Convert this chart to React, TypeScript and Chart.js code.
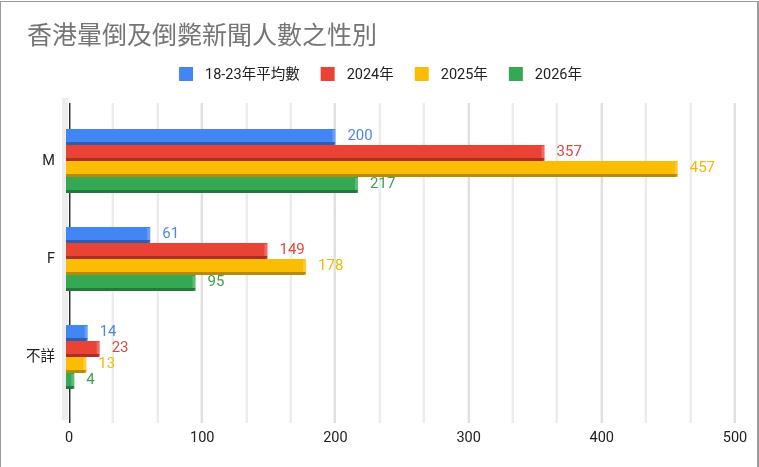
import React, { useEffect, useRef } from "react";
import { Chart, registerables } from "chart.js";

Chart.register(...registerables);

// Chart content
const chartTitle = "香港暈倒及倒斃新聞人數之性別";
const categories = ["M", "F", "不詳"];
const seriesNames = ["18-23年平均數", "2024年", "2025年", "2026年"];
const avg2018to2023 = [200, 61, 14];
const count2024 = [357, 149, 23];
const count2025 = [457, 178, 13];
const count2026 = [217, 95, 4];
const seriesValues = [avg2018to2023, count2024, count2025, count2026];

// Axis range: major ticks every 100, two minor gridlines between them
const xMin = 0;
const xMax = 500;
const xMajorStep = 100;
const xMinorDivisions = 3;

const seriesColors = ["#4285F4", "#EA4335", "#FBBC04", "#34A853"];
const seriesShades = ["#2c5fb3", "#a92f27", "#b98a06", "#22793a"];
const labelColors = ["#4f86e0", "#e0483d", "#f4b800", "#3d9f55"];

const FONT = "Roboto, 'Noto Sans CJK TC', 'Noto Sans', sans-serif";

const isMajor = (v: number) =>
  Math.abs(v / xMajorStep - Math.round(v / xMajorStep)) < 1e-6;

// Grid, back wall and zero axis behind the bars
const backdropPlugin = {
  id: "backdrop",
  beforeDatasetsDraw(chart: any) {
    const { ctx, chartArea } = chart;
    const xs = chart.scales.x;
    const top = chartArea.top - 9;
    const bottom = chartArea.bottom + 17;
    ctx.save();
    // side wall left of the zero axis
    ctx.fillStyle = "#ededed";
    ctx.fillRect(chartArea.left - 7, top - 5, 6, bottom - top + 2);
    xs.ticks.forEach((t: any) => {
      if (Math.abs(t.value) < 1e-9) return;
      const px = Math.round(xs.getPixelForValue(t.value));
      const major = isMajor(t.value);
      ctx.fillStyle = major ? "#f3f3f3" : "#f7f7f7";
      ctx.fillRect(px - 2, top, 1, bottom - top);
      ctx.fillStyle = major ? "#e0e0e0" : "#ececec";
      ctx.fillRect(px - 1, top, 2, bottom - top);
    });
    // zero axis
    const x0 = Math.round(xs.getPixelForValue(0));
    ctx.fillStyle = "#333333";
    ctx.fillRect(x0, top, 1.5, bottom - top);
    ctx.restore();
  },
};

// Depth shading on bars plus value labels
const barDepthPlugin = {
  id: "barDepth",
  afterDatasetsDraw(chart: any) {
    const { ctx } = chart;
    ctx.save();
    chart.data.datasets.forEach((ds: any, di: number) => {
      const meta = chart.getDatasetMeta(di);
      meta.data.forEach((el: any, i: number) => {
        const { x, y, base, height } = el.getProps(["x", "y", "base", "height"], true);
        const top = y - height / 2;
        const bot = y + height / 2;
        const left = base - 3;
        // face extension towards the wall
        ctx.fillStyle = seriesColors[di];
        ctx.fillRect(left, top, base - left + 1, height - 3);
        // darker underside
        ctx.fillStyle = seriesShades[di];
        ctx.beginPath();
        ctx.moveTo(left, bot - 3);
        ctx.lineTo(x, bot - 3);
        ctx.lineTo(x - 2, bot);
        ctx.lineTo(left, bot);
        ctx.closePath();
        ctx.fill();
        // lighter end cap
        ctx.fillStyle = "rgba(255,255,255,0.22)";
        ctx.fillRect(x - 3, top + 1, 3, height - 4);
        // value label
        ctx.font = `15px ${FONT}`;
        ctx.fillStyle = labelColors[di];
        ctx.textAlign = "left";
        ctx.textBaseline = "middle";
        ctx.fillText(String(ds.data[i]), x + 12, y - 1);
      });
    });
    ctx.restore();
  },
};

// Title and legend above the plot
const headerPlugin = {
  id: "header",
  afterDraw(chart: any) {
    const { ctx, width } = chart;
    ctx.save();
    ctx.font = `25px ${FONT}`;
    ctx.fillStyle = "#757575";
    ctx.textAlign = "left";
    ctx.textBaseline = "middle";
    ctx.fillText(chartTitle, 27, 38);

    ctx.font = `14.5px ${FONT}`;
    const box = 14;
    const gap = 12;
    const itemGap = 21;
    const widths = chart.data.datasets.map(
      (d: any) => box + gap + ctx.measureText(d.label).width
    );
    const total =
      widths.reduce((a: number, b: number) => a + b, 0) + itemGap * (widths.length - 1);
    let x = (width - total) / 2 + 1;
    const cy = 74;
    chart.data.datasets.forEach((d: any, i: number) => {
      ctx.fillStyle = seriesColors[i];
      ctx.fillRect(x, cy - box / 2, box, box);
      ctx.fillStyle = "#222222";
      ctx.fillText(d.label, x + box + gap, cy + 1);
      x += widths[i] + itemGap;
    });
    ctx.restore();
  },
};

export default function App() {
  const canvasRef = useRef<HTMLCanvasElement | null>(null);

  useEffect(() => {
    document.body.style.margin = "0";
    const canvas = canvasRef.current;
    if (!canvas) return;
    const chart = new Chart(canvas, {
      type: "bar",
      data: {
        labels: categories,
        datasets: seriesNames.map((name, i) => ({
          label: name,
          data: seriesValues[i],
          backgroundColor: seriesColors[i],
          borderWidth: 0,
          barPercentage: 1,
          categoryPercentage: 64 / 98,
        })),
      },
      options: {
        indexAxis: "y",
        responsive: false,
        animation: false,
        devicePixelRatio: 1,
        layout: { padding: { top: 112, right: 24, left: 0, bottom: 0 } },
        plugins: {
          legend: { display: false },
          title: { display: false },
          tooltip: { enabled: false },
        },
        scales: {
          x: {
            min: xMin,
            max: xMax,
            grid: { display: false, drawTicks: false },
            border: { display: false },
            ticks: {
              stepSize: xMajorStep / xMinorDivisions,
              autoSkip: false,
              maxRotation: 0,
              padding: 24,
              color: "#222222",
              font: { family: FONT, size: 14.5 },
              callback: (v: any) => (isMajor(Number(v)) ? String(Math.round(Number(v))) : ""),
            },
            afterFit: (s: any) => {
              s.height = 61;
              s.paddingLeft = 0;
              s.paddingRight = 0;
            },
          },
          y: {
            grid: { display: false, drawTicks: false },
            border: { display: false },
            ticks: {
              padding: 14,
              color: "#222222",
              font: { family: FONT, size: 14.5 },
            },
            afterFit: (s: any) => {
              s.width = 69;
            },
          },
        },
      },
      plugins: [backdropPlugin, barDepthPlugin, headerPlugin],
    });
    return () => chart.destroy();
  }, []);

  return (
    <div style={{ position: "relative", width: 759, height: 467, background: "#ffffff", overflow: "hidden" }}>
      <canvas ref={canvasRef} width={759} height={467} style={{ position: "absolute", left: 0, top: 0 }} />
      <div
        style={{
          position: "absolute",
          left: 0,
          top: 1,
          width: 759,
          height: 470,
          boxSizing: "border-box",
          borderTop: "1px solid #9a9a9a",
          borderLeft: "1px solid #9a9a9a",
          borderRight: "2px solid #9a9a9a",
          pointerEvents: "none",
        }}
      />
    </div>
  );
}
